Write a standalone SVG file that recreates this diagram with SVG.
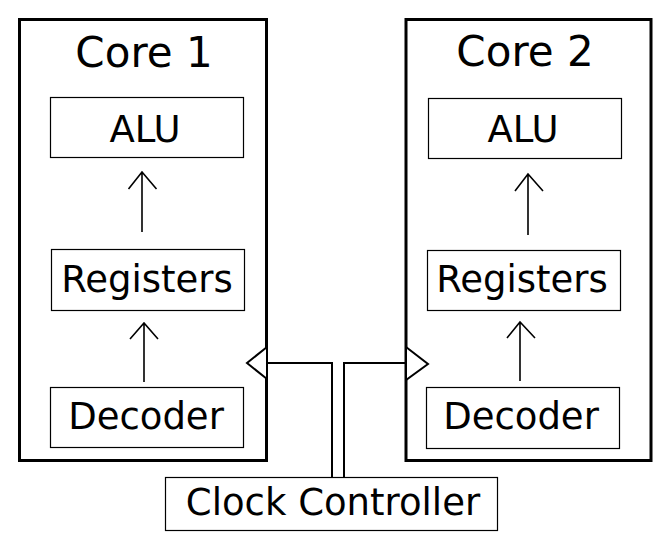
<svg xmlns="http://www.w3.org/2000/svg" width="665" height="539" viewBox="0 0 665 539">
<style>
text{font-family:"DejaVu Sans",sans-serif;fill:#000;text-anchor:middle}
.cluster{fill:none;stroke:#000;stroke-width:3}
.node{fill:#fff;stroke:#000;stroke-width:1.2}
.title{font-size:42px}
.lbl{font-size:37px}
.edge{fill:none;stroke:#000;stroke-width:1.6}
.clk{fill:none;stroke:#000;stroke-width:2}
.tri{fill:#fff;stroke:#000;stroke-width:2;stroke-linejoin:miter}
</style>
<rect width="665" height="539" fill="#fff"/>
<g id="core1">
<rect class="cluster" x="19.5" y="19.5" width="247" height="441"/>
<text class="title" x="144" y="67">Core 1</text>
</g>
<g id="core2">
<rect class="cluster" x="406" y="19.5" width="245" height="441"/>
<text class="title" x="525" y="66">Core 2</text>
</g>
<g id="alu1">
<rect class="node" x="50.5" y="97.5" width="193" height="60"/>
<text class="lbl" x="145" y="142">ALU</text>
</g>
<g id="reg1">
<rect class="node" x="51.5" y="249.5" width="193" height="61"/>
<text class="lbl" x="147" y="292">Registers</text>
</g>
<g id="dec1">
<rect class="node" x="50.5" y="387.5" width="193" height="60"/>
<text class="lbl" x="146" y="429">Decoder</text>
</g>
<g id="alu2">
<rect class="node" x="428.5" y="98.5" width="193" height="60"/>
<text class="lbl" x="523" y="142">ALU</text>
</g>
<g id="reg2">
<rect class="node" x="427.5" y="250.5" width="193" height="60"/>
<text class="lbl" x="522" y="292">Registers</text>
</g>
<g id="dec2">
<rect class="node" x="426.5" y="387.5" width="193" height="61"/>
<text class="lbl" x="521" y="429">Decoder</text>
</g>
<g id="clock">
<rect class="node" x="165.5" y="477.5" width="332" height="53"/>
<text class="lbl" x="333" y="515">Clock Controller</text>
</g>
<g id="connectors">
<path class="edge" d="M142,232 V172 M128.5,189 L142,172 L156.5,189"/>
<path class="edge" d="M144,382 V323 M130,339 L144,323 L158,339"/>
<path class="edge" d="M528,235 V174 M515,191 L528,174 L543,191"/>
<path class="edge" d="M520,381 V322 M507,338 L520,322 L535,338"/>
<path class="clk" d="M332,477 V363 H268"/>
<polygon class="tri" points="267,347 247,363 267,379"/>
<path class="clk" d="M344,477 V363 H406"/>
<polygon class="tri" points="406,347 428,364 406,380"/>
</g>
</svg>
